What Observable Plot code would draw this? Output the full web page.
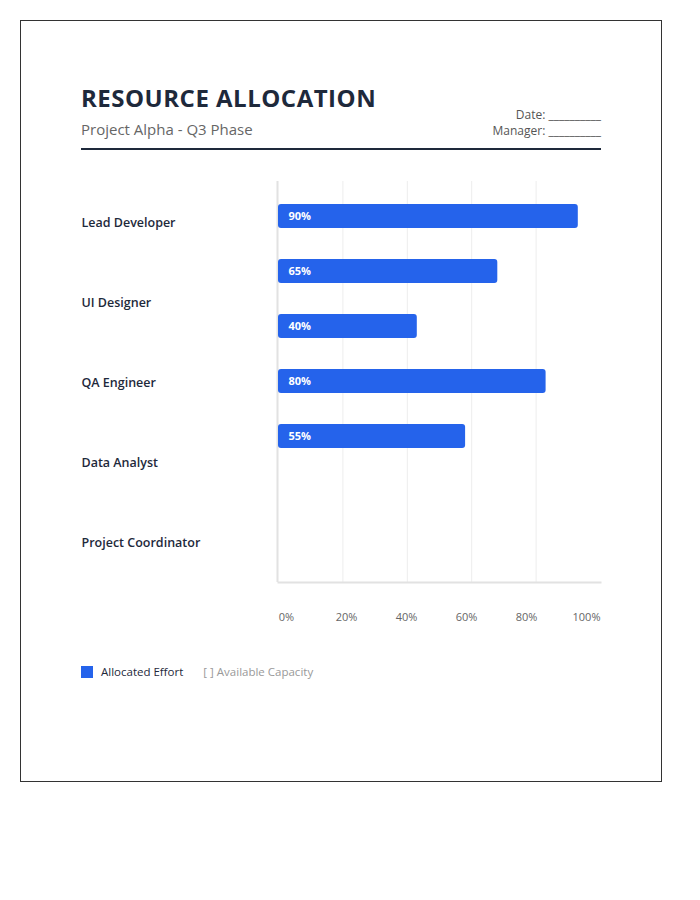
<!DOCTYPE html>
<html>
<head>
<meta charset="utf-8">
<script src="https://cdn.jsdelivr.net/npm/d3@7"></script>
<script src="https://cdn.jsdelivr.net/npm/@observablehq/plot@0.6"></script>
<style>
  body { margin: 0; background: #fff; font-family: "Open Sans", "Noto Sans", sans-serif; color: #1e293b; }
  .sheet { position: absolute; left: 20px; top: 20px; width: 640px; height: 760px; border: 1px solid #333; }
  .header { position: absolute; left: 81px; top: 83px; width: 520px; display: flex; justify-content: space-between; align-items: flex-end; padding-bottom: 9px; border-bottom: 2px solid #1e293b; }
  .title { font-size: 24px; line-height: 30px; font-weight: 700; letter-spacing: 0.5px; color: #1e293b; margin-bottom: 6px; }
  .subtitle { font-size: 15px; line-height: 20px; color: #666; }
  .meta { font-size: 12px; line-height: 16px; color: #555; text-align: right; }
  #labels { position: absolute; left: 81px; top: 182px; }
  #chart { position: absolute; left: 276px; top: 181px; }
  #ticks { position: absolute; left: 278px; top: 607px; }
  .legend { position: absolute; left: 81px; top: 664px; display: flex; align-items: center; font-size: 11.5px; line-height: 16px; }
  .swatch { width: 12px; height: 12px; background: #2563eb; margin-right: 8px; }
  .legend .cap { color: #999; margin-left: 20px; }
</style>
</head>
<body>
<div class="sheet"></div>
<div class="header">
  <div>
    <div class="title">RESOURCE ALLOCATION</div>
    <div class="subtitle">Project Alpha - Q3 Phase</div>
  </div>
  <div class="meta">
    <div>Date: __________</div>
    <div>Manager: __________</div>
  </div>
</div>
<div id="labels"></div>
<div id="chart"></div>
<div id="ticks"></div>
<div class="legend"><span class="swatch"></span><span>Allocated Effort</span><span class="cap">[ ] Available Capacity</span></div>
<script>
// Team roles and their allocated effort (percent of capacity)
const roles = ["Lead Developer", "UI Designer", "QA Engineer", "Data Analyst", "Project Coordinator"];
const allocation = [90, 65, 40, 80, 55];
const gridTicks = [20, 40, 60, 80];
const tickLabels = ["0%", "20%", "40%", "60%", "80%", "100%"];

const rows = roles.map((role, i) => ({role, value: allocation[i]}));
const font = '"Open Sans", "Noto Sans", sans-serif';

// Role names, one per 80px row
document.getElementById("labels").append(Plot.plot({
  width: 197, height: 400, margin: 0,
  x: {axis: null},
  y: {type: "band", domain: roles, range: [0, 400], padding: 0, axis: null},
  style: {fontFamily: font, overflow: "visible"},
  marks: [
    Plot.text(roles, {y: d => d, frameAnchor: "left", textAnchor: "start", fontSize: 12.5, fontWeight: 600, fill: "#1e293b"})
  ]
}));

// Allocation bars with grid
document.getElementById("chart").append(Plot.plot({
  width: 325, height: 402,
  marginLeft: 2, marginRight: 1, marginTop: 0, marginBottom: 1,
  x: {domain: [0, 100], axis: null},
  y: {domain: roles, range: [7.5, 282.5], paddingInner: 0.5636, paddingOuter: 0.2818, axis: null},
  style: {fontFamily: font, overflow: "visible"},
  marks: [
    Plot.ruleX(gridTicks, {stroke: "#ededed", strokeWidth: 1}),
    Plot.ruleX([0], {stroke: "#e2e2e2", strokeWidth: 2, dx: -1}),
    Plot.frame({anchor: "bottom", stroke: "#e2e2e2", strokeWidth: 2}),
    Plot.barX(rows, {x: "value", y: "role", fill: "#2563eb", rx: 3, insetRight: -10}),
    Plot.text(rows, {x: 0, y: "role", text: d => `${d.value}%`, textAnchor: "start", dx: 10, fill: "white", fontSize: 11, fontWeight: 700})
  ]
}));

// Percentage scale labels
document.getElementById("ticks").append(Plot.plot({
  width: 322, height: 20, margin: 0,
  x: {type: "point", domain: tickLabels, range: [6, 310], padding: 0, axis: null},
  y: {axis: null},
  style: {fontFamily: font, overflow: "visible"},
  marks: [
    Plot.text(tickLabels, {x: d => d, frameAnchor: "middle", fontSize: 11, fill: "#666"})
  ]
}));
</script>
</body>
</html>
